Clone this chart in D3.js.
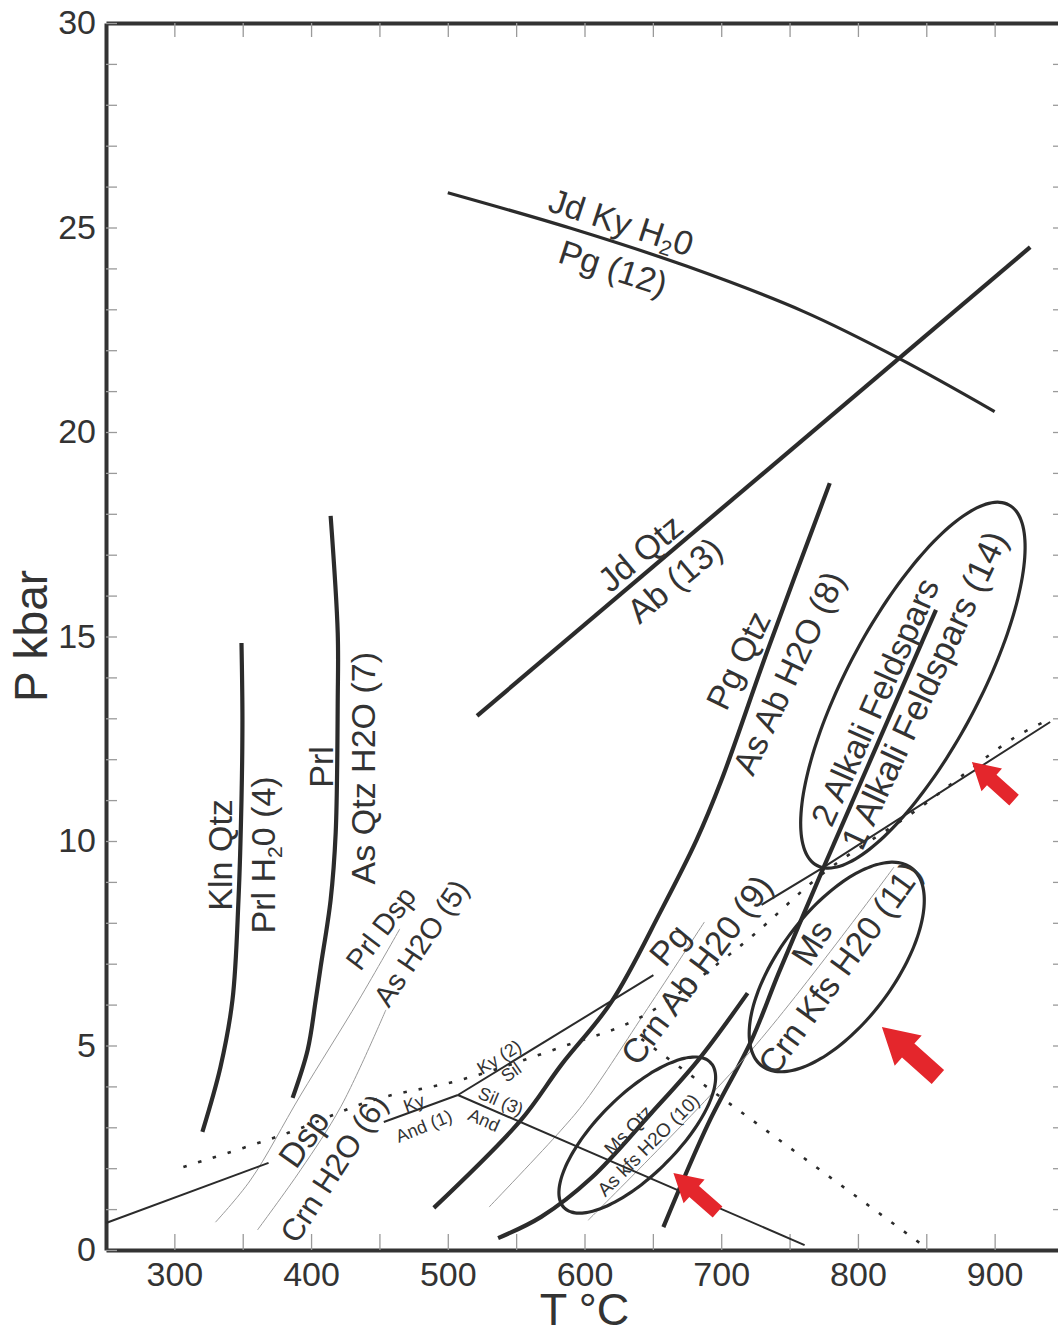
<!DOCTYPE html>
<html>
<head>
<meta charset="utf-8">
<script src="https://cdnjs.cloudflare.com/ajax/libs/d3/7.8.5/d3.min.js"></script>
<style>
body { margin: 0; background: #fff; }
svg { display: block; font-family: "Liberation Sans", Arial, Helvetica, sans-serif; }
.axis text { font-size: 34px; fill: #333; }
.axis .tick line { stroke: #9a9a9a; stroke-width: 1.3; }
.axis path.domain { stroke: #333; stroke-width: 4; }
.lbl { fill: #333; }
</style>
</head>
<body>
<div id="plot"></div>
<script>
const width = 1058;
const height = 1334;

// ----- DATA (T in °C, P in kbar) ------------------------//
const xTicks = [300, 400, 500, 600, 700, 800, 900];
const yTicks = [0, 5, 10, 15, 20, 25, 30];

// reactions
const reaction4 = [[320.5, 2.89], [333.7, 4.47], [342.5, 6.11], [346.9, 8.56], [349.1, 11.0], [349.8, 12.96], [349.1, 14.84]];
const reaction7 = [[386.5, 3.72], [397.5, 4.89], [403.4, 6.11], [407.0, 6.92], [414.3, 8.56], [418.0, 10.2], [419.5, 13.45], [419.5, 15.09], [414.3, 17.95]];
const reaction5 = [[330.1, 0.68], [355.7, 1.71], [392.4, 3.79], [434.9, 6.11], [464.9, 7.85]];
const reaction6 = [[360.8, 0.49], [392.4, 1.96], [421.7, 3.5], [454.7, 5.87]];
const reaction8 = [[489.8, 1.03], [553.6, 3.18], [582.9, 4.52], [619.6, 6.06], [656.2, 8.31], [681.9, 10.02], [700.2, 11.49], [734.0, 14.67], [779.4, 18.75]];
const reaction9 = [[530.2, 1.05], [582.9, 2.93], [601.3, 3.67], [646.0, 5.9], [687.7, 8.02]];
const reaction10 = [[536.8, 0.29], [568.3, 0.81], [604.9, 1.76], [648.9, 3.35], [683.3, 4.65], [719.3, 6.28]];
const msLine = [[657.7, 0.56], [690.7, 3.1], [722.2, 5.13], [742.0, 6.77], [775.0, 9.36]];
const reaction11 = [[602.7, 0.73], [722.2, 4.89], [826.3, 9.36]];
const reaction12 = [[500, 25.85], [590, 24.98], [675, 24.05], [760, 22.95], [830, 21.8], [900, 20.5]];
const reaction13 = [[521.4, 13.06], [926, 24.52]];
const reaction14 = [[775, 9.36], [857.1, 15.65]];
const kyAnd1 = [[453.2, 3.13], [507.4, 3.79]];
const kySil2 = [[507.4, 3.79], [650.4, 6.72]];
const silAnd3 = [[507.4, 3.79], [761, 0.12]];
const lowLeftLine = [[250, 0.66], [368.9, 2.13]];
const upperRightLine = [[729.5, 8.44], [775, 9.36], [940.6, 12.91]];
const solidusDots = [[306.6, 2.03], [382.8, 2.86], [445.9, 3.67], [509.6, 4.16], [582.9, 4.96], [641.6, 5.7], [714.9, 7.46], [775.7, 9.24], [840.9, 10.71], [915, 12.54], [942, 13.0]];
const lowerDots = [[641.6, 5.16], [845.3, 0.17]];

// ellipses: centre, end of long axis, end of short axis
const ellipse10 = [[638.6, 2.81], [692.0, 4.59], [659.4, 2.12]];
const ellipse11 = [[784.5, 6.92], [839.2, 9.34], [817.8, 6.08]];
const ellipse14 = [[840.2, 13.81], [910.3, 18.22], [882.9, 13.06]];

// red arrows
const arrowTips = [[883.4, 11.93], [817.5, 5.45], [665.0, 1.88]];
const arrowTails = [[914.2, 11.0], [858.5, 4.23], [697.3, 0.93]];

// labels: text, T, P, angle, size
const labels = [
    ["Kln Qtz", 333.7, 9.66, -90, "big"],
    ["Prl H{2}0 (4)", 365.2, 9.66, -90, "big"],
    ["Prl", 407.0, 11.81, -90, "big"],
    ["As Qtz H2O (7)", 437.8, 11.78, -90, "big"],
    ["Prl Dsp", 451.0, 7.87, -53, "mid"],
    ["As H2O (5)", 480.3, 7.51, -56, "mid"],
    ["Dsp", 394.6, 2.72, -55, "big"],
    ["Crn H2O (6)", 416.5, 2.0, -57, "lbl31"],
    ["Ky", 475.2, 3.59, -20, "small"],
    ["And (1)", 482.5, 3.03, -22, "small"],
    ["Ky (2)", 537.5, 4.72, -32, "small"],
    ["Sil", 546.3, 4.35, -35, "small"],
    ["Sil (3)", 538.9, 3.64, 23, "small"],
    ["And", 526.5, 3.18, 24, "small"],
    ["Pg", 662.1, 7.46, -50, "big"],
    ["Crn Ab H20 (9)", 681.9, 6.85, -53, "big"],
    ["Ms", 766.2, 7.51, -58, "big"],
    ["Crn Kfs H20 (11)", 786.7, 6.89, -54, "big"],
    ["2 Alkali Feldspars", 812.4, 13.40, -66, "big"],
    ["1 Alkali Feldspars (14)", 848.3, 13.69, -65, "lbl35"],
    ["Pg Qtz", 712.5, 14.42, -64, "big"],
    ["As Ab H2O (8)", 749.3, 14.11, -65, "big"],
    ["Jd Qtz", 640.8, 17.04, -40, "big"],
    ["Ab (13)", 665.8, 16.38, -40, "big"],
    ["Pg (12)", 621.0, 24.01, 18, "big"],
    ["Jd Ky H{2}0", 626.9, 25.13, 18, "big"],
    ["Ms Qtz", 632.0, 2.93, -46, "small2"],
    ["As kfs H2O (10)", 646.7, 2.57, -45, "small2"]
];

const fontSize = { big: 34, lbl35: 35, lbl31: 31, mid: 29, small: 18, small2: 19 };

// ----- SVG + SCALES ------------------------//
var svg = d3.select("#plot").append("svg")
    .attr("width", width)
    .attr("height", height);

const xScl = d3.scaleLinear().domain([250, 950]).range([106, 1063]);
const yScl = d3.scaleLinear().domain([0, 30]).range([1250, 23]);

// ----- AXES ------------------------//
svg.append("g")
    .attr("class", "axis")
    .attr("transform", "translate(0,1250)")
    .call(d3.axisBottom(xScl)
        .tickValues(d3.range(300, 951, 50))
        .tickSize(-16).tickSizeOuter(0).tickPadding(12)
        .tickFormat(d => xTicks.includes(d) ? d : ""));

svg.append("g")
    .attr("class", "axis")
    .attr("transform", "translate(0,23)")
    .call(d3.axisTop(xScl)
        .tickValues(d3.range(300, 951, 50))
        .tickSize(-14).tickSizeOuter(0)
        .tickFormat(""));

svg.append("g")
    .attr("class", "axis")
    .attr("transform", "translate(1063,0)")
    .call(d3.axisRight(yScl)
        .tickValues(d3.range(1, 30, 1))
        .tickSize(-10).tickSizeOuter(0)
        .tickFormat(""));

svg.append("g")
    .attr("class", "axis")
    .attr("transform", "translate(106,0)")
    .call(d3.axisLeft(yScl)
        .tickValues(d3.range(0, 31, 1))
        .tickSize(-11).tickSizeOuter(0).tickPadding(10)
        .tickFormat(d => yTicks.includes(d) ? d : ""));

svg.append("text")
    .attr("transform", "translate(47,636) rotate(-90)")
    .attr("text-anchor", "middle")
    .style("font-size", "46px")
    .style("fill", "#333")
    .text("P kbar");

svg.append("text")
    .attr("x", xScl(600))
    .attr("y", 1325)
    .attr("text-anchor", "middle")
    .style("font-size", "45px")
    .style("fill", "#333")
    .text("T °C");

// ----- LINES ------------------------//
const smooth = d3.line()
    .x(d => xScl(d[0]))
    .y(d => yScl(d[1]))
    .curve(d3.curveCatmullRom.alpha(0.5));

const straight = d3.line()
    .x(d => xScl(d[0]))
    .y(d => yScl(d[1]));

const styles = {
    heavy: { stroke: "#2b2b2b", width: 4.2, dash: null },
    medium: { stroke: "#2b2b2b", width: 3.2, dash: null },
    thin: { stroke: "#2b2b2b", width: 2, dash: null },
    gray: { stroke: "#9a9a9a", width: 1, dash: null },
    dots: { stroke: "#2b2b2b", width: 2.6, dash: "3.5,12" }
};

const allLines = [
    { pts: reaction4, kind: "heavy", gen: smooth },
    { pts: reaction7, kind: "heavy", gen: smooth },
    { pts: reaction5, kind: "gray", gen: smooth },
    { pts: reaction6, kind: "gray", gen: smooth },
    { pts: reaction8, kind: "heavy", gen: smooth },
    { pts: reaction9, kind: "gray", gen: smooth },
    { pts: reaction10, kind: "heavy", gen: smooth },
    { pts: msLine, kind: "heavy", gen: smooth },
    { pts: reaction11, kind: "gray", gen: smooth },
    { pts: reaction12, kind: "medium", gen: smooth },
    { pts: reaction13, kind: "heavy", gen: straight },
    { pts: reaction14, kind: "heavy", gen: straight },
    { pts: kyAnd1, kind: "thin", gen: straight },
    { pts: kySil2, kind: "thin", gen: straight },
    { pts: silAnd3, kind: "thin", gen: straight },
    { pts: lowLeftLine, kind: "thin", gen: straight },
    { pts: upperRightLine, kind: "thin", gen: straight },
    { pts: solidusDots, kind: "dots", gen: smooth },
    { pts: lowerDots, kind: "dots", gen: straight }
];

svg.append("g").selectAll("path")
    .data(allLines)
    .enter()
    .append("path")
    .attr("d", d => d.gen(d.pts))
    .attr("fill", "none")
    .attr("stroke", d => styles[d.kind].stroke)
    .attr("stroke-width", d => styles[d.kind].width)
    .attr("stroke-dasharray", d => styles[d.kind].dash)
    .attr("stroke-linecap", "butt");

// ----- ELLIPSES ------------------------//
function ellipsePts(e) {
    const c = e[0], a = e[1], b = e[2];
    return d3.range(0, 360, 4).map(function (deg) {
        const t = deg * Math.PI / 180;
        return [c[0] + (a[0] - c[0]) * Math.cos(t) + (b[0] - c[0]) * Math.sin(t),
                c[1] + (a[1] - c[1]) * Math.cos(t) + (b[1] - c[1]) * Math.sin(t)];
    });
}
const closed = d3.line()
    .x(d => xScl(d[0]))
    .y(d => yScl(d[1]))
    .curve(d3.curveCardinalClosed);

svg.append("g").selectAll("path")
    .data([ellipse10, ellipse11, ellipse14])
    .enter()
    .append("path")
    .attr("d", d => closed(ellipsePts(d)))
    .attr("fill", "none")
    .attr("stroke", "#2b2b2b")
    .attr("stroke-width", 3.2);

// ----- RED ARROWS ------------------------//
function arrowPath(i) {
    const tx = xScl(arrowTips[i][0]), ty = yScl(arrowTips[i][1]);
    const bx = xScl(arrowTails[i][0]), by = yScl(arrowTails[i][1]);
    const len = Math.hypot(tx - bx, ty - by);
    const ux = (tx - bx) / len, uy = (ty - by) / len;
    const nx = -uy, ny = ux;
    const h = len * 0.47, hw = len * 0.27, sw = len * 0.125;
    const hx = tx - ux * h, hy = ty - uy * h;
    const p = [[tx, ty],
        [hx + nx * hw, hy + ny * hw], [hx + nx * sw, hy + ny * sw],
        [bx + nx * sw, by + ny * sw], [bx - nx * sw, by - ny * sw],
        [hx - nx * sw, hy - ny * sw], [hx - nx * hw, hy - ny * hw]];
    return "M" + p.map(q => q[0].toFixed(1) + "," + q[1].toFixed(1)).join("L") + "Z";
}

svg.append("g").selectAll("path")
    .data(arrowTips)
    .enter()
    .append("path")
    .attr("d", (d, i) => arrowPath(i))
    .attr("fill", "#e4262c");

// ----- LABELS ------------------------//
const lbl = svg.append("g").selectAll("text")
    .data(labels)
    .enter()
    .append("text")
    .attr("class", "lbl")
    .attr("text-anchor", "middle")
    .attr("transform", d => "translate(" + xScl(d[1]) + "," + yScl(d[2]) + ") rotate(" + d[3] + ")")
    .attr("dy", "0.35em")
    .style("font-size", d => fontSize[d[4]] + "px");

lbl.each(function (d) {
    const el = d3.select(this);
    const size = fontSize[d[4]];
    const parts = d[0].split("{2}");
    if (parts.length === 1) {
        el.text(d[0]);
        return;
    }
    el.append("tspan").text(parts[0]);
    el.append("tspan")
        .attr("dy", size * 0.18)
        .style("font-size", (size * 0.62) + "px")
        .text("2");
    el.append("tspan")
        .attr("dy", -size * 0.18)
        .text(parts[1]);
});
</script>
</body>
</html>
